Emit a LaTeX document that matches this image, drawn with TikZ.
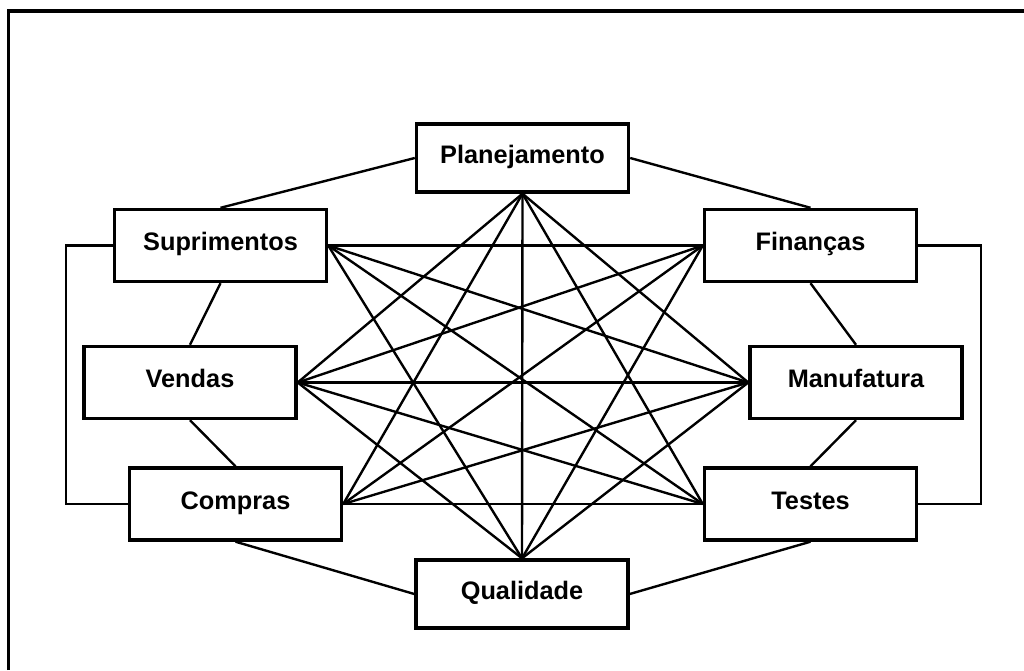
\documentclass[tikz,border=0pt]{standalone}
\usepackage{fontspec}
\setmainfont{Liberation Sans}
\tikzset{
  box/.style={
    rectangle,
    draw,
    line width=2.4pt,
    fill=white,
    align=center,
    minimum width=5.3cm,
    minimum height=1.8cm,
    text height=0.72em,
    text depth=0pt,
    font=\fontsize{18}{21}\selectfont\bfseries
  },
  topbox/.style={box, minimum height=1.7cm},
  link/.style={line width=1.7pt},
  mainlink/.style={line width=2.5pt},
  frame/.style={line width=2.3pt}
}
\begin{document}
\begin{tikzpicture}[x=0.025cm,y=-0.025cm]
\useasboundingbox (0,0) rectangle (1024,670);
\draw[frame] (8.5,670) -- (8.5,11) -- (1024,11);

\node[topbox] (plan) at (522.5,158) {Planejamento};
\node[box] (supr) at (220.5,245.5) {Suprimentos};
\node[box] (fin) at (810.5,245.5) {Finanças};
\node[box] (vend) at (190,382.5) {Vendas};
\node[box] (manuf) at (856,382.5) {Manufatura};
\node[box] (compras) at (235.5,504) {Compras};
\node[box] (testes) at (810.5,504) {Testes};
\node[topbox] (qual) at (522,594) {Qualidade};

% outer ring
\draw[link] (plan.west) -- (supr.north);
\draw[link] (supr.south) -- (vend.north);
\draw[link] (vend.south) -- (compras.north);
\draw[link] (compras.south) -- (qual.west);
\draw[link] (plan.east) -- (fin.north);
\draw[link] (fin.south) -- (manuf.north);
\draw[link] (manuf.south) -- (testes.north);
\draw[link] (testes.south) -- (qual.east);
\draw[link] (supr.west) -- ++(-47,0) |- (compras.west);
\draw[link] (fin.east) -- ++(63,0) |- (testes.east);

% star
\draw[link] (plan.south) -- (vend.east);
\draw[link] (plan.south) -- (compras.east);
\draw[link] (plan.south) -- (qual.north);
\draw[link] (plan.south) -- (manuf.west);
\draw[link] (plan.south) -- (testes.west);
\draw[mainlink] (supr.east) -- (fin.west);
\draw[link] (supr.east) -- (manuf.west);
\draw[link] (supr.east) -- (testes.west);
\draw[link] (supr.east) -- (qual.north);
\draw[link] (fin.west) -- (vend.east);
\draw[link] (fin.west) -- (compras.east);
\draw[link] (fin.west) -- (qual.north);
\draw[link] (vend.east) -- (manuf.west);
\draw[link] (vend.east) -- (testes.west);
\draw[link] (vend.east) -- (qual.north);
\draw[link] (manuf.west) -- (compras.east);
\draw[link] (manuf.west) -- (qual.north);
\draw[link] (compras.east) -- (testes.west);
\end{tikzpicture}
\end{document}
